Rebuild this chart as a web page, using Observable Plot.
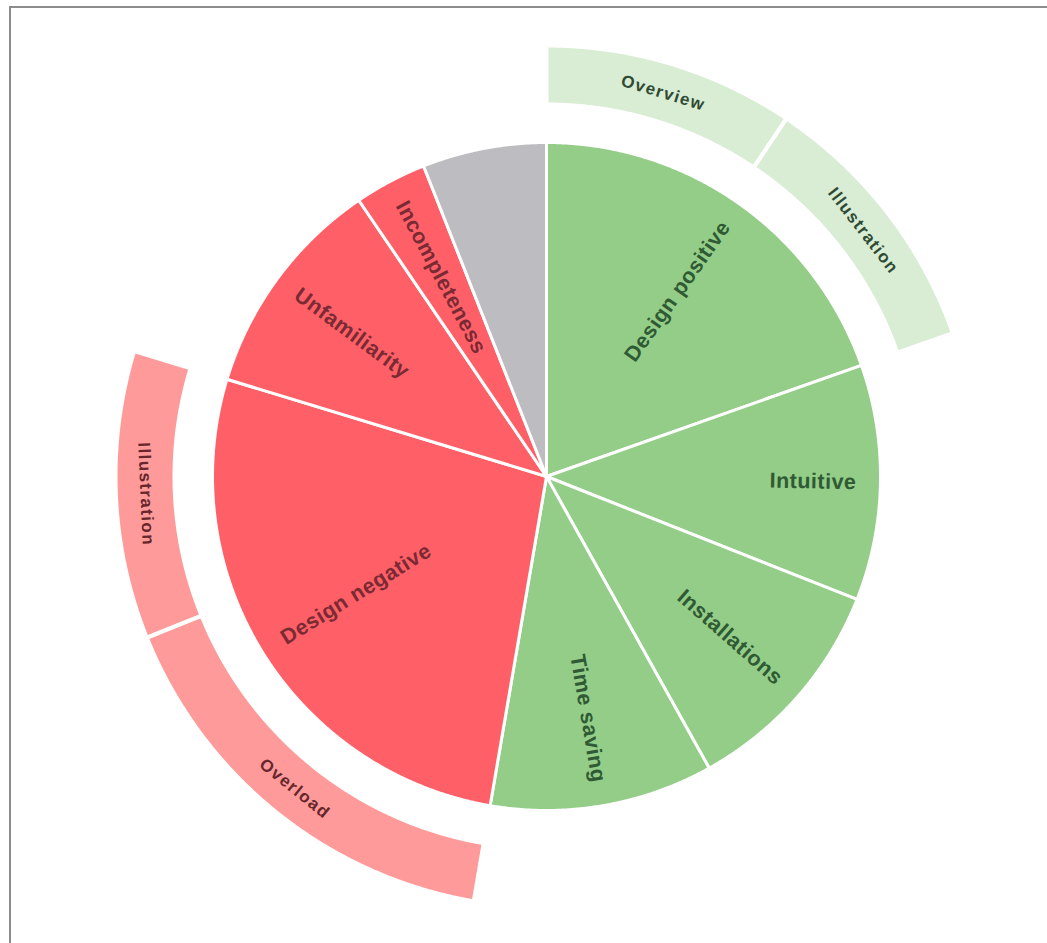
<!DOCTYPE html>
<html><head><meta charset="utf-8">
<script src="https://cdn.jsdelivr.net/npm/d3@7"></script>
<script src="https://cdn.jsdelivr.net/npm/@observablehq/plot@0.6"></script>
<style>
body{margin:0;background:#fff;}
#chart{position:relative;width:1047px;height:943px;overflow:hidden;}
#frame{position:absolute;left:9px;top:6px;right:-5px;bottom:-5px;border-left:2px solid #8c8c8c;border-top:2px solid #8c8c8c;pointer-events:none;}
</style></head><body><div id="chart"><div id="frame"></div></div>
<script>
// ---- data ----
const categories = ["Design positive","Intuitive","Installations","Time saving","Design negative","Unfamiliarity","Incompleteness","Other"];
const shares = [19.6, 11.4, 10.9, 10.8, 27.0, 10.8, 3.5, 6.0];
const sentiments = ["pos","pos","pos","pos","neg","neg","neg","none"];
const showLabel = [true,true,true,true,true,true,true,false];
const subParents = ["Design positive","Design positive","Design negative","Design negative"];
const subCategories = ["Overview","Illustration","Overload","Illustration"];
const subShares = [9.4, 10.2, 16.2, 10.8];

// ---- styles ----
const sliceFill = {pos:"#93cd88", neg:"#ff6068", none:"#bdbdc1"};
const ringFill = {pos:"#d8edd3", neg:"#ff9a9a"};
const sliceText = {pos:"#2f5a33", neg:"#7a2a33", none:"#444"};
const ringText = {pos:"#2f4a34", neg:"#66262b"};
const R = 334, RING_IN = 372, RING_OUT = 431, LABEL_R = 310, RING_LABEL_R = 401;
const TOTAL = d3.sum(shares);

const pt = (deg, r) => {
  const a = deg * Math.PI / 180;
  return {x: r * Math.sin(a), y: r * Math.cos(a)};
};
const arcPts = (a0, a1, r) => {
  const out = [];
  const n = Math.max(2, Math.ceil((a1 - a0) / 0.25));
  for (let i = 0; i <= n; i++) out.push(pt(a0 + (a1 - a0) * i / n, r));
  return out;
};

// slices
const slices = [];
let acc = 0;
categories.forEach((c, i) => {
  const a0 = acc / TOTAL * 360;
  acc += shares[i];
  const a1 = acc / TOTAL * 360;
  slices.push({name: c, a0, a1, sentiment: sentiments[i], show: showLabel[i]});
});

const slicePoints = [];
slices.forEach((s, i) => {
  const pts = [{x:0,y:0}, ...arcPts(s.a0, s.a1, R), {x:0,y:0}];
  pts.forEach(p => slicePoints.push({...p, key: "s" + i, color: sliceFill[s.sentiment]}));
});

// ring segments
const ringSegs = [];
const parentCursor = {};
subCategories.forEach((c, i) => {
  const parent = slices.find(s => s.name === subParents[i]);
  const start = parentCursor[parent.name] ?? parent.a0;
  const a1 = start + subShares[i] / TOTAL * 360;
  parentCursor[parent.name] = a1;
  ringSegs.push({name: c, a0: start, a1, sentiment: parent.sentiment});
});
const ringPoints = [];
ringSegs.forEach((s, i) => {
  const outer = arcPts(s.a0, s.a1, RING_OUT);
  const inner = arcPts(s.a0, s.a1, RING_IN).reverse();
  const pts = [...outer, ...inner, outer[0]];
  pts.forEach(p => ringPoints.push({...p, key: "r" + i, color: ringFill[s.sentiment]}));
});

// labels
const sliceLabels = slices.filter(s => s.show).map(s => {
  const m = (s.a0 + s.a1) / 2;
  const p = pt(m, LABEL_R);
  const right = m < 180;
  return {...p, text: s.name, rotate: right ? m - 90 : m + 90 - 360, right, color: sliceText[s.sentiment]};
});
const ringLabels = ringSegs.map(s => {
  const m = (s.a0 + s.a1) / 2;
  const p = pt(m, RING_LABEL_R);
  const bottom = m > 90 && m < 270;
  return {...p, text: s.name, rotate: bottom ? m - 180 : m, color: ringText[s.sentiment]};
});

const font = "Liberation Sans, Arial, Helvetica, sans-serif";
const chart = Plot.plot({
  width: 1047, height: 943, margin: 0,
  x: {domain: [-546, 501], axis: null},
  y: {domain: [-467, 476], axis: null},
  color: {type: "identity"},
  style: {background: "transparent"},
  marks: [
    Plot.line(ringPoints, {x: "x", y: "y", z: "key", fill: "color", stroke: "white", strokeWidth: 4, curve: "linear"}),
    Plot.line(slicePoints, {x: "x", y: "y", z: "key", fill: "color", stroke: "white", strokeWidth: 3, strokeLinejoin: "round", curve: "linear"}),
    Plot.text(sliceLabels.filter(d => d.right), {x: "x", y: "y", text: "text", rotate: "rotate", fill: "color", textAnchor: "end", fontSize: 21.5, fontWeight: "bold", fontFamily: font}),
    Plot.text(sliceLabels.filter(d => !d.right), {x: "x", y: "y", text: "text", rotate: "rotate", fill: "color", textAnchor: "start", fontSize: 21.5, fontWeight: "bold", fontFamily: font}),
    Plot.text(ringLabels, {x: "x", y: "y", text: "text", rotate: "rotate", fill: "color", textAnchor: "middle", fontSize: 17, fontWeight: "bold", fontFamily: font})
  ]
});
const textGroups = chart.querySelectorAll('g[aria-label="text"]');
textGroups.forEach((g, i) => { g.style.letterSpacing = i === 2 ? "1.4px" : "0.5px"; });
document.getElementById("chart").prepend(chart);
</script>
</body></html>
